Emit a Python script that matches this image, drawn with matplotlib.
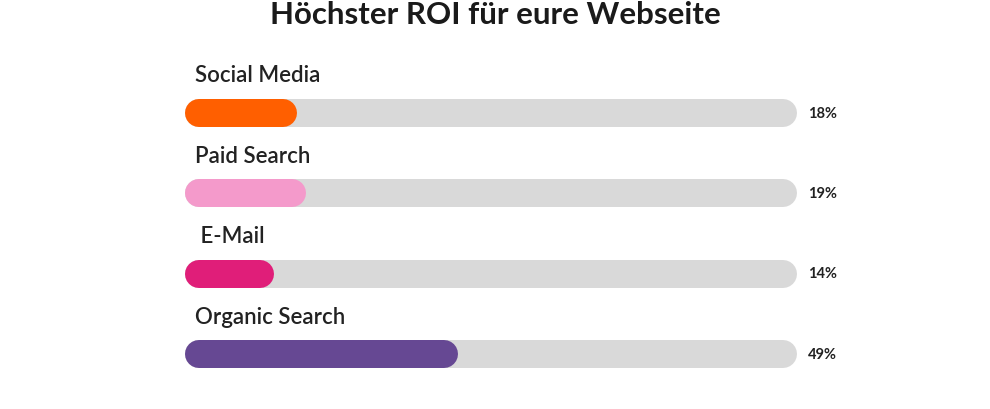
import matplotlib
matplotlib.use('Agg')
import matplotlib.pyplot as plt

categories = ['Social Media', 'Paid Search', ' E-Mail', 'Organic Search']
pct_labels = ['18%', '19%', '14%', '49%']
fill_values = [18.3, 19.8, 14.6, 44.6]   # drawn bar lengths (track = 100)
colors = ['#FF5F00', '#F49ACB', '#E01E79', '#664893']

plt.rcParams['font.family'] = ['Lato', 'DejaVu Sans']

W, H, DPI = 990, 410, 100
fig = plt.figure(figsize=(W / DPI, H / DPI), dpi=DPI)

x0_px, x1_px = 185, 797          # track extent
px_per_unit = (x1_px - x0_px) / 100.0
bar_px = 28
row_px = 80.5
first_px = 113.5

ax = fig.add_axes([x0_px / W, 0, (x1_px - x0_px) / W, 1])
ax.set_xlim(0, 100)
top = -first_px / row_px
bottom = 3 + (H - first_px - 3 * row_px) / row_px
ax.set_ylim(bottom, top)
ax.axis('off')

lw = bar_px * 72 / DPI
cap = (bar_px / 2) / px_per_unit

for i, (cat, lab, v, c) in enumerate(zip(categories, pct_labels, fill_values, colors)):
    ax.plot([cap, 100 - cap], [i, i], color='#D9D9D9', lw=lw,
            solid_capstyle='round')
    ax.plot([cap, v - cap], [i, i], color=c, lw=lw, solid_capstyle='round')
    ax.text(10 / px_per_unit, i - 38 / row_px, cat, fontsize=16,
            fontweight='semibold', color='#222222', va='center', ha='left')
    ax.text(101.8, i, lab, fontsize=10.5, fontweight='bold', color='#222222',
            va='center', ha='left')

fig.text(495 / W, 1 - 15 / H, 'Höchster ROI für eure Webseite', fontsize=22.5,
         fontweight='bold', color='#1a1a1a', ha='center', va='center')

fig.savefig('out.png', dpi=DPI)
